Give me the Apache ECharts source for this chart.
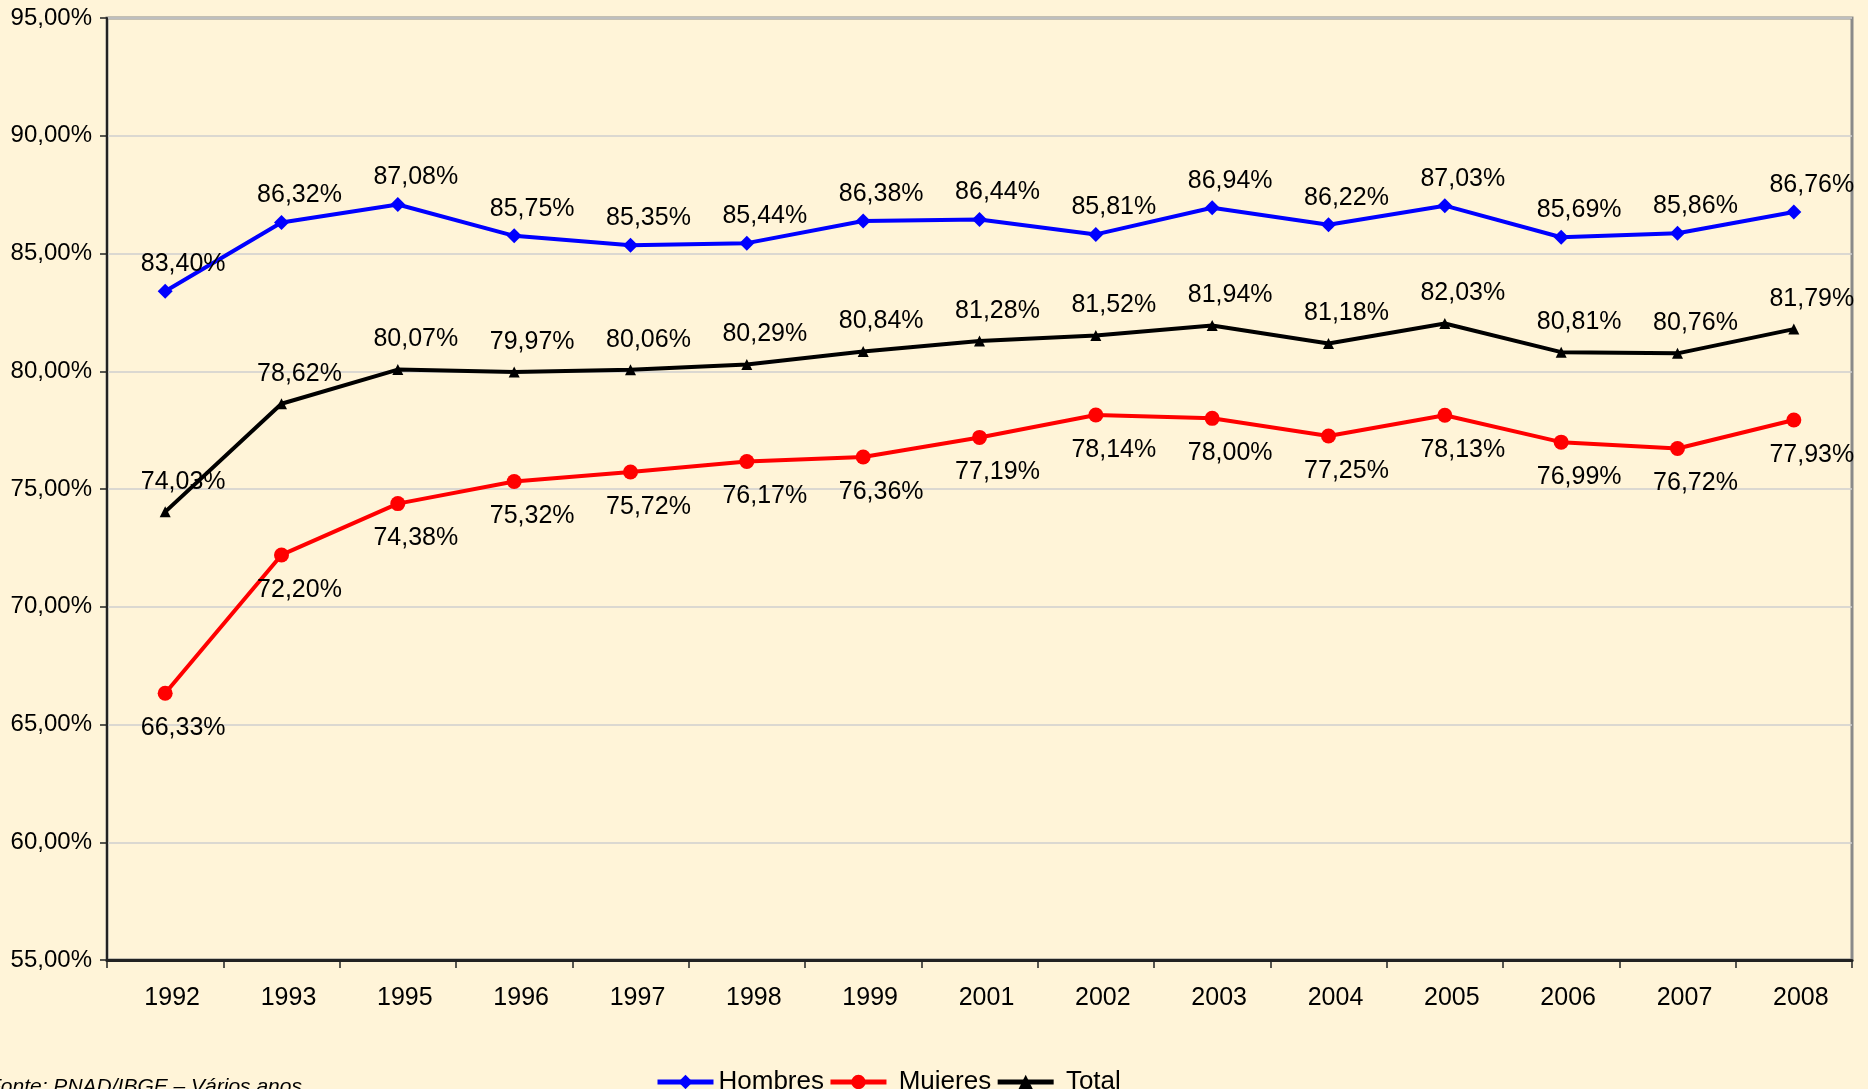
<!DOCTYPE html>
<html lang="es">
<head>
	<meta charset="UTF-8">
	<title>Hombres Mujeres Total 1992-2008</title>
	<script src="https://cdn.jsdelivr.net/npm/echarts@6/dist/echarts.min.js"></script>
	<style>
		html, body { margin: 0; padding: 0; background: #FFF4D8; }
	</style>
</head>
<body>
	<div id="container" style="width:1868px;height:1089px;"></div>

	<script>
		// datos
		var years = ['1992', '1993', '1995', '1996', '1997', '1998', '1999', '2001', '2002', '2003', '2004', '2005', '2006', '2007', '2008'];
		var hombres = [83.40, 86.32, 87.08, 85.75, 85.35, 85.44, 86.38, 86.44, 85.81, 86.94, 86.22, 87.03, 85.69, 85.86, 86.76];
		var mujeres = [66.33, 72.20, 74.38, 75.32, 75.72, 76.17, 76.36, 77.19, 78.14, 78.00, 77.25, 78.13, 76.99, 76.72, 77.93];
		var total = [74.03, 78.62, 80.07, 79.97, 80.06, 80.29, 80.84, 81.28, 81.52, 81.94, 81.18, 82.03, 80.81, 80.76, 81.79];
		var fuente = 'Fonte: PNAD/IBGE – Vários anos';

		var font = '"Liberation Sans", Arial, sans-serif';

		function pct(v) {
			return v.toFixed(2).replace('.', ',') + '%';
		}

		var dom = document.getElementById('container');
		var myChart = echarts.init(dom);

		function lineSerie(name, data, color, symbol, size, below, dist) {
			return {
				name: name,
				type: 'line',
				data: data,
				symbol: symbol,
				symbolSize: size,
				showAllSymbol: true,
				lineStyle: { color: color, width: 4 },
				itemStyle: { color: color },
				label: {
					show: true,
					position: below ? 'bottom' : 'top',
					distance: dist,
					offset: [18, 0],
					color: '#000',
					fontFamily: font,
					fontSize: 25,
					formatter: function(p) { return pct(p.value); }
				},
				emphasis: { disabled: true },
				z: 3
			};
		}

		var option = {
			backgroundColor: '#FFF4D8',
			animation: false,
			textStyle: { fontFamily: font },
			grid: {
				left: 107,
				right: 16,
				top: 18,
				bottom: 129,
				show: true,
				backgroundColor: 'transparent',
				borderColor: '#8a8a8a',
				borderWidth: 3
			},
			legend: {
				left: 650,
				top: 1064,
				itemWidth: 56,
				itemHeight: 18,
				itemGap: 4,
				lineStyle: { width: 5 },
				formatter: function(name) { return name === 'Hombres' ? name : ' ' + name; },
				textStyle: { fontSize: 26, color: '#000', fontFamily: font },
				data: ['Hombres', 'Mujeres', 'Total']
			},
			xAxis: {
				type: 'category',
				data: years,
				boundaryGap: true,
				axisLine: { lineStyle: { color: '#222', width: 3 } },
				axisTick: { show: true, length: 8, lineStyle: { color: '#222', width: 1.5 } },
				axisLabel: { color: '#000', fontSize: 25, fontFamily: font, margin: 26, padding: [0, 0, 0, 14] },
				splitLine: { show: false }
			},
			yAxis: {
				type: 'value',
				min: 55,
				max: 95,
				interval: 5,
				axisLine: { show: true, lineStyle: { color: '#222', width: 2 } },
				axisTick: { show: true, length: 7, lineStyle: { color: '#222', width: 1.5 } },
				axisLabel: {
					color: '#000',
					fontSize: 24,
					fontFamily: font,
					margin: 15,
					formatter: function(v) { return pct(v); }
				},
				splitLine: { show: true, lineStyle: { color: '#cfcfcf', width: 1.5 } }
			},
			series: [
				lineSerie('Hombres', hombres, '#0000FF', 'diamond', 15, false, 7),
				lineSerie('Mujeres', mujeres, '#FF0000', 'circle', 15, true, 15),
				lineSerie('Total', total, '#000000', 'triangle', 11, false, 12)
			],
			graphic: {
				elements: [{
					type: 'text',
					left: -12,
					top: 1077,
					style: {
						text: fuente,
						font: 'italic 21px "Liberation Sans", Arial, sans-serif',
						fill: '#000'
					}
				}]
			}
		};

		myChart.setOption(option);
	</script>
</body>
</html>
